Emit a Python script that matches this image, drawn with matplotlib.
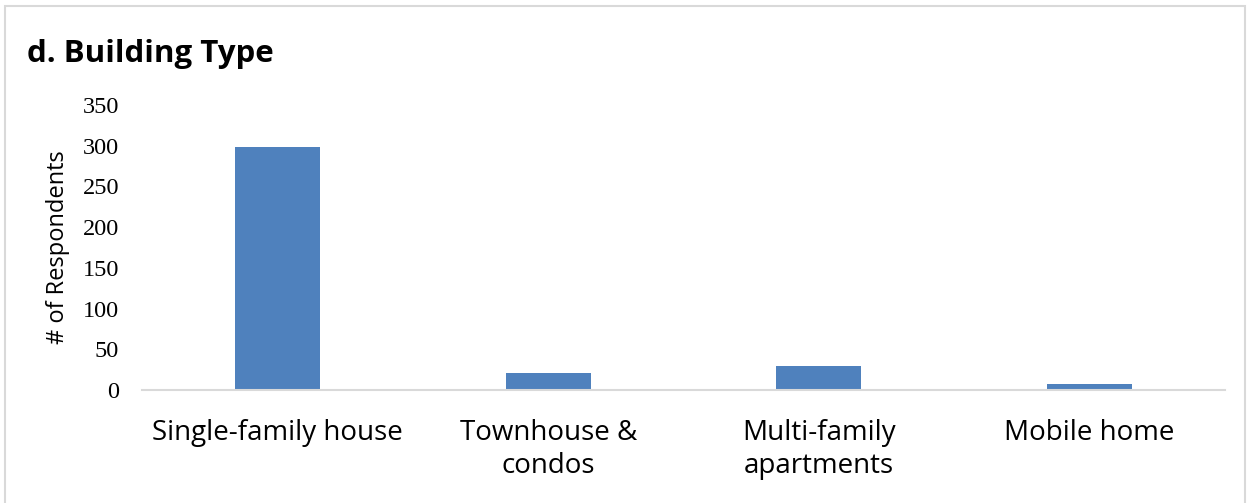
import matplotlib
matplotlib.use("Agg")
import matplotlib.pyplot as plt
from matplotlib.patches import Rectangle

categories = ["Single-family house", "Townhouse &\ncondos", "Multi-family\napartments", "Mobile home"]
respondents = [298, 21, 29, 7]
y_ticks = [0, 50, 100, 150, 200, 250, 300, 350]

W, H, DPI = 1254, 503, 100
fig = plt.figure(figsize=(W / DPI, H / DPI), dpi=DPI)
fig.patch.set_facecolor("white")

# outer chart border
fig.patches.append(Rectangle((5 / W, -0.05), (1245 - 5) / W, 1 - 6 / H + 0.05,
                             transform=fig.transFigure, fill=False,
                             edgecolor="#D9D9D9", linewidth=1.5))

left, right, bottom, top = 142, 1225, 390, 105
ax = fig.add_axes([left / W, 1 - bottom / H, (right - left) / W, (bottom - top) / H])

x = range(len(categories))
ax.bar(x, respondents, width=0.314, color="#4F81BD")
ax.set_xlim(-0.5, len(categories) - 0.5)
ax.set_ylim(0, 350)
ax.set_yticks(y_ticks)
ax.set_yticklabels([str(v) for v in y_ticks], family="Liberation Serif", fontsize=17.5)
ax.set_xticks(list(x))
ax.set_xticklabels(categories, family="Open Sans", fontsize=20, linespacing=1.25)

for s in ["top", "right", "left"]:
    ax.spines[s].set_visible(False)
ax.spines["bottom"].set_color("#D9D9D9")
ax.spines["bottom"].set_linewidth(1.5)
ax.tick_params(axis="both", length=0)
ax.tick_params(axis="x", pad=21)
ax.tick_params(axis="y", pad=16.5)

ax.set_ylabel("# of Respondents", family="Open Sans", fontsize=17)
ax.yaxis.set_label_coords((70 - left) / (right - left), 0.5)

fig.text(27 / W, 1 - 62 / H, "d. Building Type", family="Open Sans",
         fontweight="bold", fontsize=22.5, ha="left", va="baseline")

fig.savefig("out.png", dpi=DPI)
